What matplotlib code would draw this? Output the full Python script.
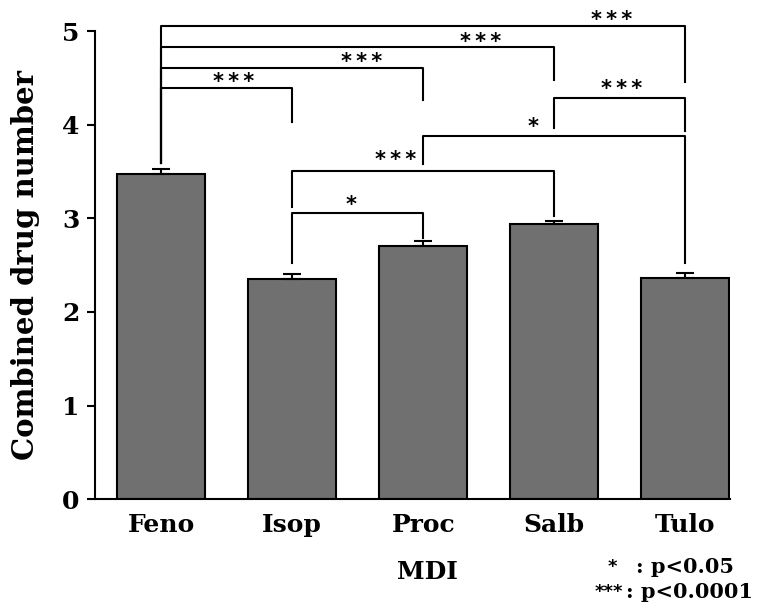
import matplotlib.pyplot as plt

# bar data (MDI groups)
drugs = ['Feno', 'Isop', 'Proc', 'Salb', 'Tulo']
means = [3.47, 2.35, 2.70, 2.94, 2.36]
sem = [0.06, 0.05, 0.06, 0.03, 0.06]

# pairwise comparisons: (left bar, right bar, stars)
comparisons = [(0, 4, '***'), (0, 3, '***'), (0, 2, '***'), (0, 1, '***'),
               (3, 4, '***'), (2, 4, '*'), (1, 3, '***'), (1, 2, '*')]
bracket_top = [5.05, 4.83, 4.61, 4.39, 4.28, 3.88, 3.51, 3.06]
left_leg = [3.59, 3.59, 3.59, 3.59, 3.97, 3.58, 3.12, 2.52]
right_leg = [4.46, 4.48, 4.26, 4.03, 3.93, 2.52, 3.03, 2.79]
star_x = [3.44, 2.44, 1.53, 0.55, 3.51, 2.84, 1.79, 1.45]
star_y = [5.14, 4.91, 4.69, 4.48, 4.40, 4.00, 3.64, 3.16]

plt.rcParams['font.family'] = ['DejaVu Serif']
plt.rcParams['font.weight'] = 'bold'

fig = plt.figure(figsize=(7.6, 6.05), dpi=100)
ax = fig.add_axes([0.125, 0.175, 0.8355, 0.7736])

x = list(range(len(drugs)))
ax.bar(x, means, width=0.67, color='#707070', edgecolor='black', linewidth=1.5,
       zorder=2)
ax.errorbar(x, means, yerr=[[0] * len(sem), sem], fmt='none', ecolor='black',
            elinewidth=1.5, capsize=6.5, capthick=1.5, zorder=3)

# significance brackets
for k, (i, j, stars) in enumerate(comparisons):
    ax.plot([i, i, j, j], [left_leg[k], bracket_top[k], bracket_top[k], right_leg[k]],
            color='black', lw=1.5, clip_on=False, zorder=4)
    ax.text(star_x[k], star_y[k], '\u2009'.join(stars), ha='center',
            va='center_baseline', fontsize=15, fontweight='bold',
            family='DejaVu Sans', clip_on=False)

ax.set_xlim(-0.504, 4.34)
ax.set_ylim(0, 5)
ax.set_yticks([0, 1, 2, 3, 4, 5])
ax.set_xticks(x)
ax.set_xticklabels(drugs, fontsize=18, fontweight='bold')
ax.tick_params(axis='x', length=0, pad=10)
ax.tick_params(axis='y', labelsize=18, length=6, width=1.5, pad=5)
for lab in ax.get_yticklabels():
    lab.set_fontweight('bold')

ax.spines['top'].set_visible(False)
ax.spines['right'].set_visible(False)
ax.spines['left'].set_linewidth(1.5)
ax.spines['bottom'].set_linewidth(1.5)

ax.set_ylabel('Combined drug number', fontsize=21, fontweight='bold', labelpad=16)
ax.text(2.03, -0.155, 'MDI', transform=ax.get_xaxis_transform(), ha='center',
        va='center', fontsize=18, fontweight='bold')

# significance key
fig.text(0.806, 0.066, '*', fontsize=13, fontweight='bold', family='DejaVu Sans',
         ha='center', va='center_baseline')
fig.text(0.837, 0.066, ': p<0.05', fontsize=15, fontweight='bold',
         va='center_baseline')
fig.text(0.801, 0.025, '***', fontsize=13, fontweight='bold', family='DejaVu Sans',
         ha='center', va='center_baseline')
fig.text(0.824, 0.025, ': p<0.0001', fontsize=15, fontweight='bold',
         va='center_baseline')

fig.savefig('out.png', dpi=100)
